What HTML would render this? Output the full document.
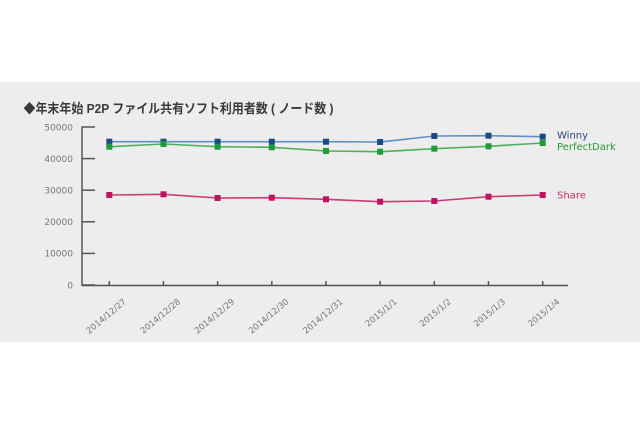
<!DOCTYPE html>
<html><head><meta charset="utf-8">
<style>
html,body{margin:0;padding:0;background:#fff;}
svg{display:block;}
</style></head>
<body>
<svg width="640" height="426" viewBox="0 0 640 426" xmlns="http://www.w3.org/2000/svg">
<rect x="0" y="0" width="640" height="426" fill="#ffffff"/>
<rect x="0" y="82" width="640" height="260" fill="#ededed"/>

<text x="23.5" y="113" font-family="'Liberation Sans','Noto Sans CJK JP',sans-serif" font-weight="bold" font-size="13" fill="#3a3a3a" textLength="310" lengthAdjust="spacingAndGlyphs">◆年末年始 P2P ファイル共有ソフト利用者数 ( ノード数 )</text>

<!-- axes -->
<g stroke="#555" stroke-width="1.5" fill="none">
<line x1="82" y1="126.5" x2="82" y2="286"/>
<line x1="82" y1="285.5" x2="568" y2="285.5"/>
<line x1="82" y1="127" x2="95" y2="127"/>
<line x1="82" y1="158.6" x2="95" y2="158.6"/>
<line x1="82" y1="190.2" x2="95" y2="190.2"/>
<line x1="82" y1="221.8" x2="95" y2="221.8"/>
<line x1="82" y1="253.4" x2="95" y2="253.4"/>
<line x1="82" y1="285" x2="95" y2="285"/>
<line x1="109.3" y1="281" x2="109.3" y2="285"/>
<line x1="163.5" y1="281" x2="163.5" y2="285"/>
<line x1="217.6" y1="281" x2="217.6" y2="285"/>
<line x1="271.8" y1="281" x2="271.8" y2="285"/>
<line x1="326" y1="281" x2="326" y2="285"/>
<line x1="380.1" y1="281" x2="380.1" y2="285"/>
<line x1="434.3" y1="281" x2="434.3" y2="285"/>
<line x1="488.5" y1="281" x2="488.5" y2="285"/>
<line x1="542.7" y1="281" x2="542.7" y2="285"/>
</g>

<g font-family="'DejaVu Sans',sans-serif" font-size="9" fill="#777" text-anchor="end">
<text x="73" y="130.5">50000</text>
<text x="73" y="162">40000</text>
<text x="73" y="193.5">30000</text>
<text x="73" y="225">20000</text>
<text x="73" y="256.5">10000</text>
<text x="73" y="288.5">0</text>
</g>

<g font-family="'DejaVu Sans',sans-serif" font-size="8.5" fill="#777" text-anchor="end">
<text transform="translate(126.7,302.6) rotate(-40)">2014/12/27</text>
<text transform="translate(180.9,302.6) rotate(-40)">2014/12/28</text>
<text transform="translate(235,302.6) rotate(-40)">2014/12/29</text>
<text transform="translate(289.2,302.6) rotate(-40)">2014/12/30</text>
<text transform="translate(343.4,302.6) rotate(-40)">2014/12/31</text>
<text transform="translate(397.5,302.6) rotate(-40)">2015/1/1</text>
<text transform="translate(451.7,302.6) rotate(-40)">2015/1/2</text>
<text transform="translate(505.9,302.6) rotate(-40)">2015/1/3</text>
<text transform="translate(560.1,302.6) rotate(-40)">2015/1/4</text>
</g>

<!-- series lines -->
<polyline fill="none" stroke="#5f8fc4" stroke-width="1.6" points="109.3,141.7 163.5,141.7 217.6,141.7 271.8,141.7 326,141.7 380.1,142 434.3,136 488.5,135.7 542.7,136.7"/>
<polyline fill="none" stroke="#4fb05a" stroke-width="1.6" points="109.3,146.7 163.5,144 217.6,146.7 271.8,147.3 326,151 380.1,151.7 434.3,148.7 488.5,146.3 542.7,143"/>
<polyline fill="none" stroke="#cc3a78" stroke-width="1.6" points="109.3,195 163.5,194.3 217.6,198 271.8,197.7 326,199.3 380.1,201.7 434.3,201 488.5,196.7 542.7,195"/>

<!-- markers -->
<g fill="#1d4a82">
<rect x="106.3" y="138.7" width="6" height="6"/>
<rect x="160.5" y="138.7" width="6" height="6"/>
<rect x="214.6" y="138.7" width="6" height="6"/>
<rect x="268.8" y="138.7" width="6" height="6"/>
<rect x="323" y="138.7" width="6" height="6"/>
<rect x="377.1" y="139" width="6" height="6"/>
<rect x="431.3" y="133" width="6" height="6"/>
<rect x="485.5" y="132.7" width="6" height="6"/>
<rect x="539.7" y="133.7" width="6" height="6"/>
</g>
<g fill="#1f9a3a">
<rect x="106.3" y="143.7" width="6" height="6"/>
<rect x="160.5" y="141" width="6" height="6"/>
<rect x="214.6" y="143.7" width="6" height="6"/>
<rect x="268.8" y="144.3" width="6" height="6"/>
<rect x="323" y="148" width="6" height="6"/>
<rect x="377.1" y="148.7" width="6" height="6"/>
<rect x="431.3" y="145.7" width="6" height="6"/>
<rect x="485.5" y="143.3" width="6" height="6"/>
<rect x="539.7" y="140" width="6" height="6"/>
</g>
<g fill="#c0125e">
<rect x="106.3" y="192" width="6" height="6"/>
<rect x="160.5" y="191.3" width="6" height="6"/>
<rect x="214.6" y="195" width="6" height="6"/>
<rect x="268.8" y="194.7" width="6" height="6"/>
<rect x="323" y="196.3" width="6" height="6"/>
<rect x="377.1" y="198.7" width="6" height="6"/>
<rect x="431.3" y="198" width="6" height="6"/>
<rect x="485.5" y="193.7" width="6" height="6"/>
<rect x="539.7" y="192" width="6" height="6"/>
</g>

<!-- legend labels -->
<g font-family="'DejaVu Sans',sans-serif" font-size="10">
<text x="557" y="138.5" fill="#2a4a78">Winny</text>
<text x="557" y="150" fill="#2a9a3a">PerfectDark</text>
<text x="557" y="198.5" fill="#c0306a">Share</text>
</g>
</svg>
</body></html>
